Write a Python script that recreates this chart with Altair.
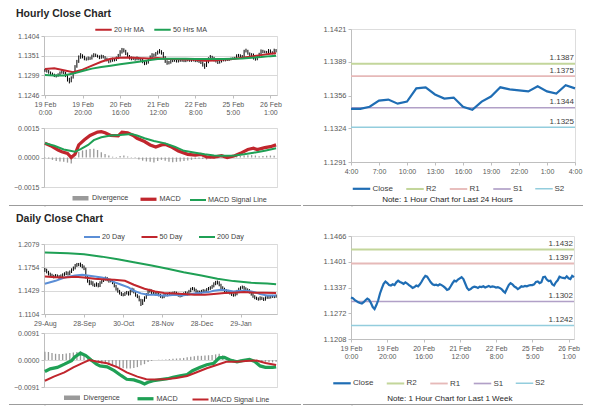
import json
import altair as alt
import pandas as pd

FONT = "Liberation Sans"
LBL = "#595959"
TXT = "#404040"
AXC = "#bfbfbf"
GRID = "#d9d9d9"

# ---------------- hourly data (19 Feb 0:00 .. 26 Feb 4:00, 124 hourly bars) ----------------
hourly_close = [
    1.1312, 1.1310, 1.1306, 1.1303, 1.1300, 1.1298, 1.1297, 1.1300, 1.1305, 1.1309,
    1.1306, 1.1298, 1.1288, 1.1283, 1.1293, 1.1305, 1.1322, 1.1335, 1.1346, 1.1352,
    1.1348, 1.1343, 1.1342, 1.1345, 1.1343, 1.1350, 1.1354, 1.1351, 1.1349, 1.1346,
    1.1350, 1.1347, 1.1343, 1.1340, 1.1336, 1.1338, 1.1342, 1.1340, 1.1345, 1.1352,
    1.1360, 1.1366, 1.1364, 1.1357, 1.1350, 1.1345, 1.1343, 1.1344, 1.1342, 1.1345,
    1.1343, 1.1340, 1.1336, 1.1331, 1.1333, 1.1340, 1.1348, 1.1354, 1.1352, 1.1357,
    1.1360, 1.1363, 1.1358, 1.1347, 1.1336, 1.1331, 1.1333, 1.1337, 1.1339, 1.1338,
    1.1336, 1.1339, 1.1338, 1.1340, 1.1337, 1.1339, 1.1341, 1.1338, 1.1340, 1.1339,
    1.1337, 1.1338, 1.1336, 1.1333, 1.1328, 1.1324, 1.1334, 1.1343, 1.1348, 1.1345,
    1.1340, 1.1337, 1.1333, 1.1336, 1.1340, 1.1339, 1.1341, 1.1340, 1.1342, 1.1343,
    1.1343, 1.1345, 1.1351, 1.1352, 1.1348, 1.1350, 1.1363, 1.1364, 1.1357, 1.1353,
    1.1354, 1.1345, 1.1342, 1.1350, 1.1355, 1.1364, 1.1362, 1.1361, 1.1360, 1.1365,
    1.1360, 1.1358, 1.1366, 1.1363,
]
hourly_high = [
    1.1316, 1.1315, 1.1313, 1.1309, 1.1306, 1.1303, 1.1301, 1.1304, 1.1309, 1.1314,
    1.1312, 1.1308, 1.1300, 1.1292, 1.1296, 1.1309, 1.1326, 1.1340, 1.1352, 1.1358,
    1.1355, 1.1351, 1.1347, 1.1349, 1.1348, 1.1354, 1.1358, 1.1357, 1.1354, 1.1352,
    1.1354, 1.1353, 1.1350, 1.1346, 1.1343, 1.1342, 1.1346, 1.1345, 1.1349, 1.1356,
    1.1366, 1.1372, 1.1371, 1.1367, 1.1360, 1.1353, 1.1349, 1.1348, 1.1347, 1.1349,
    1.1348, 1.1346, 1.1343, 1.1339, 1.1337, 1.1344, 1.1352, 1.1358, 1.1357, 1.1361,
    1.1365, 1.1369, 1.1366, 1.1361, 1.1350, 1.1339, 1.1337, 1.1341, 1.1342, 1.1342,
    1.1341, 1.1342, 1.1342, 1.1343, 1.1343, 1.1342, 1.1344, 1.1344, 1.1343, 1.1343,
    1.1342, 1.1341, 1.1341, 1.1339, 1.1336, 1.1331, 1.1337, 1.1347, 1.1353, 1.1351,
    1.1348, 1.1343, 1.1340, 1.1339, 1.1343, 1.1343, 1.1344, 1.1344, 1.1345, 1.1346,
    1.1347, 1.1348, 1.1355, 1.1356, 1.1355, 1.1353, 1.1367, 1.1370, 1.1367, 1.1360,
    1.1358, 1.1357, 1.1348, 1.1353, 1.1359, 1.1368, 1.1367, 1.1365, 1.1364, 1.1369,
    1.1368, 1.1363, 1.1370, 1.1369,
]
hourly_low = [
    1.1308, 1.1306, 1.1303, 1.1299, 1.1297, 1.1294, 1.1293, 1.1295, 1.1298, 1.1303,
    1.1302, 1.1294, 1.1282, 1.1277, 1.1280, 1.1290, 1.1302, 1.1319, 1.1332, 1.1343,
    1.1344, 1.1339, 1.1338, 1.1339, 1.1340, 1.1341, 1.1347, 1.1348, 1.1346, 1.1342,
    1.1343, 1.1344, 1.1339, 1.1336, 1.1331, 1.1333, 1.1335, 1.1336, 1.1337, 1.1342,
    1.1349, 1.1357, 1.1360, 1.1353, 1.1346, 1.1341, 1.1339, 1.1340, 1.1338, 1.1339,
    1.1339, 1.1336, 1.1331, 1.1326, 1.1327, 1.1330, 1.1337, 1.1345, 1.1348, 1.1349,
    1.1354, 1.1357, 1.1354, 1.1343, 1.1332, 1.1327, 1.1328, 1.1330, 1.1334, 1.1335,
    1.1333, 1.1333, 1.1335, 1.1335, 1.1334, 1.1334, 1.1336, 1.1335, 1.1335, 1.1336,
    1.1334, 1.1334, 1.1332, 1.1329, 1.1322, 1.1316, 1.1321, 1.1331, 1.1340, 1.1341,
    1.1336, 1.1333, 1.1329, 1.1330, 1.1333, 1.1336, 1.1336, 1.1337, 1.1337, 1.1339,
    1.1340, 1.1341, 1.1343, 1.1348, 1.1345, 1.1345, 1.1348, 1.1360, 1.1354, 1.1350,
    1.1350, 1.1341, 1.1338, 1.1339, 1.1347, 1.1352, 1.1358, 1.1358, 1.1357, 1.1357,
    1.1357, 1.1355, 1.1355, 1.1360,
]
hourly_ma_x = [0, 5, 10, 15, 20, 25, 30, 35, 40, 45, 50, 55, 60, 65, 70, 75, 80, 85,
               90, 95, 100, 105, 110, 115, 120, 123]
hourly_ma20 = [1.13157, 1.13175, 1.13122, 1.13069, 1.13139, 1.13245, 1.13351, 1.13431,
               1.13457, 1.13466, 1.13448, 1.13440, 1.13448, 1.13422, 1.13422, 1.13413,
               1.13404, 1.13378, 1.13387, 1.13413, 1.13422, 1.13457, 1.13493, 1.13528,
               1.13563, 1.13581]
hourly_ma50 = [1.12998, 1.12981, 1.12981, 1.13033, 1.13104, 1.13166, 1.13210, 1.13245,
               1.13281, 1.13316, 1.13351, 1.13387, 1.13422, 1.13431, 1.13431, 1.13431,
               1.13422, 1.13422, 1.13422, 1.13422, 1.13431, 1.13440, 1.13457, 1.13475,
               1.13501, 1.13510]
hourly_macd_x = [0, 3, 7, 9, 12, 14, 16, 18, 21, 24, 28, 30, 32, 35, 39, 41, 44, 47, 49, 53,
                 56, 59, 62, 64, 67, 71, 76, 80, 83, 86, 90, 94, 97, 101, 104, 108, 111, 113,
                 117, 120, 123]
hourly_macd = [0.00072, 0.00060, 0.00038, 0.00029, 0.00021, 0.00000, 0.00016, 0.00064,
               0.00090, 0.00112, 0.00129, 0.00131, 0.00126, 0.00112, 0.00110, 0.00129,
               0.00126, 0.00112, 0.00098, 0.00081, 0.00064, 0.00053, 0.00064, 0.00067,
               0.00055, 0.00033, 0.00016, 0.00012, 0.00016, 0.00003, 0.00002, 0.00009,
               0.00000, 0.00009, 0.00021, 0.00041, 0.00047, 0.00040, 0.00050, 0.00055,
               0.00064]
hourly_signal_x = [0, 5, 10, 16, 19, 23, 26, 30, 35, 40, 46, 49, 53, 58, 64, 69, 74, 80, 85,
                   90, 96, 101, 106, 111, 117, 123]
hourly_signal = [0.00072, 0.00060, 0.00041, 0.00029, 0.00043, 0.00064, 0.00088, 0.00103,
                 0.00112, 0.00114, 0.00119, 0.00112, 0.00098, 0.00084, 0.00072, 0.00055,
                 0.00034, 0.00024, 0.00016, 0.00010, 0.00009, 0.00010, 0.00016, 0.00024,
                 0.00034, 0.00047]
hourly_div_step = 2
hourly_div = [
    -0.00003, -0.00005, -0.00012, -0.00018, -0.00020, -0.00022, -0.00026, -0.00030, -0.00005, 0.00028,
    0.00036, 0.00040, 0.00043, 0.00044, 0.00038, 0.00027, 0.00018, 0.00010, 0.00004, 0.00002,
    0.00008, 0.00010, 0.00005, 0.00002, -0.00003, -0.00010, -0.00016, -0.00020, -0.00022, -0.00025,
    -0.00018, -0.00012, -0.00016, -0.00022, -0.00024, -0.00022, -0.00020, -0.00018, -0.00015, -0.00012,
    -0.00008, -0.00006, -0.00008, -0.00010, -0.00006, -0.00005, -0.00004, -0.00002, -0.00003, 0.00001,
    0.00003, 0.00006, 0.00008, 0.00010, 0.00012, 0.00012, 0.00010, 0.00006, 0.00008, 0.00009,
    0.00010, 0.00009,
]
hourly_tick_idx = [0, 20, 40, 60, 80, 100, 120]
hourly_tick_day = ["19 Feb", "19 Feb", "20 Feb", "21 Feb", "22 Feb", "25 Feb", "26 Feb"]
hourly_tick_time = ["0:00", "20:00", "16:00", "12:00", "8:00", "5:00", "1:00"]

# last 24 hours (25 hourly closes, 25 Feb 4:00 .. 26 Feb 4:00)
last24_first_bar = 99
last24_tick_idx = [0, 3, 6, 9, 12, 15, 18, 21, 24]
last24_ticks = ["4:00", "7:00", "10:00", "13:00", "16:00", "19:00", "22:00", "1:00", "4:00"]
level_names = ["R2", "R1", "S1", "S2"]
levels_24h = [1.1387, 1.1375, 1.1344, 1.1325]
levels_week = [1.1432, 1.1397, 1.1302, 1.1242]

# ---------------- daily data (29 Aug .. 26 Feb, 131 days) ----------------
daily_close = [
    1.1715, 1.1690, 1.1660, 1.1645, 1.1630, 1.1620, 1.1640, 1.1625, 1.1610, 1.1630,
    1.1650, 1.1665, 1.1675, 1.1660, 1.1690, 1.1720, 1.1740, 1.1775, 1.1795, 1.1810,
    1.1780, 1.1760, 1.1740, 1.1620, 1.1560, 1.1530, 1.1545, 1.1510, 1.1500, 1.1520,
    1.1495, 1.1540, 1.1565, 1.1590, 1.1605, 1.1580, 1.1560, 1.1575, 1.1540, 1.1495,
    1.1450, 1.1420, 1.1395, 1.1375, 1.1370, 1.1390, 1.1400, 1.1380, 1.1420, 1.1445,
    1.1410, 1.1365, 1.1345, 1.1300, 1.1250, 1.1290, 1.1330, 1.1375, 1.1420, 1.1430,
    1.1400, 1.1395, 1.1380, 1.1400, 1.1370, 1.1350, 1.1340, 1.1365, 1.1375, 1.1370,
    1.1390, 1.1385, 1.1395, 1.1400, 1.1380, 1.1365, 1.1355, 1.1370, 1.1385, 1.1400,
    1.1380, 1.1420, 1.1450, 1.1460, 1.1440, 1.1410, 1.1415, 1.1400, 1.1420, 1.1430,
    1.1425, 1.1445, 1.1460, 1.1470, 1.1490, 1.1520, 1.1535, 1.1545, 1.1510, 1.1470,
    1.1455, 1.1430, 1.1410, 1.1420, 1.1395, 1.1375, 1.1365, 1.1380, 1.1420, 1.1450,
    1.1470, 1.1480, 1.1460, 1.1445, 1.1430, 1.1410, 1.1380, 1.1350, 1.1330, 1.1320,
    1.1310, 1.1330, 1.1320, 1.1305, 1.1330, 1.1345, 1.1335, 1.1345, 1.1350, 1.1345,
    1.1355,
]
daily_high = [
    1.1745, 1.1735, 1.1705, 1.1680, 1.1665, 1.1650, 1.1660, 1.1655, 1.1645, 1.1655,
    1.1670, 1.1685, 1.1700, 1.1695, 1.1710, 1.1740, 1.1765, 1.1800, 1.1815, 1.1815,
    1.1820, 1.1800, 1.1780, 1.1750, 1.1635, 1.1580, 1.1570, 1.1560, 1.1530, 1.1545,
    1.1535, 1.1560, 1.1590, 1.1610, 1.1625, 1.1620, 1.1600, 1.1595, 1.1590, 1.1555,
    1.1510, 1.1470, 1.1440, 1.1410, 1.1395, 1.1410, 1.1425, 1.1420, 1.1440, 1.1470,
    1.1460, 1.1425, 1.1380, 1.1360, 1.1315, 1.1310, 1.1350, 1.1395, 1.1440, 1.1455,
    1.1445, 1.1420, 1.1410, 1.1420, 1.1415, 1.1385, 1.1365, 1.1385, 1.1395, 1.1395,
    1.1410, 1.1405, 1.1415, 1.1420, 1.1415, 1.1400, 1.1380, 1.1390, 1.1405, 1.1420,
    1.1415, 1.1440, 1.1470, 1.1480, 1.1475, 1.1455, 1.1435, 1.1430, 1.1440, 1.1450,
    1.1445, 1.1465, 1.1480, 1.1490, 1.1510, 1.1545, 1.1565, 1.1570, 1.1560, 1.1525,
    1.1490, 1.1470, 1.1450, 1.1440, 1.1435, 1.1410, 1.1390, 1.1400, 1.1440, 1.1470,
    1.1490, 1.1500, 1.1495, 1.1475, 1.1460, 1.1450, 1.1425, 1.1395, 1.1365, 1.1345,
    1.1335, 1.1350, 1.1345, 1.1335, 1.1350, 1.1365, 1.1360, 1.1365, 1.1370, 1.1365,
    1.1375,
]
daily_low = [
    1.1690, 1.1670, 1.1640, 1.1625, 1.1610, 1.1600, 1.1605, 1.1605, 1.1590, 1.1595,
    1.1615, 1.1635, 1.1645, 1.1640, 1.1645, 1.1675, 1.1705, 1.1725, 1.1760, 1.1770,
    1.1760, 1.1740, 1.1715, 1.1600, 1.1540, 1.1505, 1.1510, 1.1490, 1.1480, 1.1485,
    1.1475, 1.1480, 1.1525, 1.1550, 1.1570, 1.1560, 1.1540, 1.1545, 1.1520, 1.1475,
    1.1430, 1.1400, 1.1375, 1.1355, 1.1350, 1.1355, 1.1375, 1.1360, 1.1365, 1.1405,
    1.1390, 1.1345, 1.1325, 1.1280, 1.1215, 1.1230, 1.1275, 1.1315, 1.1360, 1.1400,
    1.1380, 1.1375, 1.1360, 1.1365, 1.1350, 1.1330, 1.1320, 1.1325, 1.1350, 1.1350,
    1.1355, 1.1365, 1.1370, 1.1375, 1.1360, 1.1345, 1.1335, 1.1340, 1.1355, 1.1370,
    1.1360, 1.1365, 1.1405, 1.1435, 1.1420, 1.1390, 1.1390, 1.1380, 1.1385, 1.1405,
    1.1405, 1.1410, 1.1430, 1.1440, 1.1455, 1.1475, 1.1505, 1.1515, 1.1490, 1.1450,
    1.1435, 1.1410, 1.1390, 1.1395, 1.1375, 1.1355, 1.1345, 1.1350, 1.1365, 1.1405,
    1.1435, 1.1455, 1.1440, 1.1425, 1.1410, 1.1390, 1.1360, 1.1330, 1.1310, 1.1300,
    1.1290, 1.1295, 1.1300, 1.1285, 1.1290, 1.1315, 1.1315, 1.1320, 1.1330, 1.1325,
    1.1330,
]
daily_ma20_x = [0, 6, 11, 17, 21, 24, 28, 32, 35, 39, 43, 47, 50, 54, 58, 62, 65, 69, 73, 77,
                80, 84, 88, 92, 95, 99, 103, 106, 110, 114, 118, 121, 125, 130]
daily_ma20 = [1.1525, 1.1566, 1.1612, 1.1640, 1.1649, 1.1640, 1.1626, 1.1612, 1.1594, 1.1548,
              1.1511, 1.1474, 1.1428, 1.1391, 1.1372, 1.1372, 1.1363, 1.1363, 1.1372, 1.1363,
              1.1372, 1.1391, 1.1400, 1.1409, 1.1428, 1.1441, 1.1432, 1.1418, 1.1428, 1.1428,
              1.1409, 1.1381, 1.1363, 1.1363]
daily_ma50_x = [0, 6, 11, 17, 22, 28, 34, 39, 45, 50, 56, 62, 67, 73, 78, 84, 90, 95, 101, 106,
                112, 118, 123, 130]
daily_ma50 = [1.1626, 1.1617, 1.1612, 1.1622, 1.1612, 1.1594, 1.1585, 1.1580, 1.1566, 1.1511,
              1.1455, 1.1418, 1.1395, 1.1391, 1.1381, 1.1372, 1.1372, 1.1381, 1.1395, 1.1400,
              1.1409, 1.1400, 1.1400, 1.1395]
daily_ma200_x = [0, 13, 22, 32, 41, 50, 60, 69, 78, 88, 97, 106, 116, 125, 130]
daily_ma200 = [1.1959, 1.1950, 1.1936, 1.1903, 1.1867, 1.1825, 1.1779, 1.1733, 1.1686, 1.1640,
               1.1594, 1.1562, 1.1538, 1.1529, 1.1520]
daily_macd_x = [0, 3, 7, 11, 15, 17, 20, 23, 26, 29, 31, 35, 39, 43, 46, 50, 54, 56, 58, 61,
                65, 69, 72, 76, 80, 83, 87, 91, 95, 98, 101, 104, 108, 111, 115, 118, 121, 124,
                128, 130]
daily_macd = [-0.0039, -0.0030, -0.0025, -0.0014, -0.0002, 0.0011, 0.0023, 0.0015, 0.0000, -0.0014,
              -0.0020, -0.0023, -0.0036, -0.0053, -0.0065, -0.0067, -0.0075, -0.0081, -0.0075, -0.0070,
              -0.0066, -0.0063, -0.0058, -0.0053, -0.0049, -0.0036, -0.0025, -0.0016, -0.0011, 0.0007,
              0.0009, 0.0000, -0.0006, -0.0002, 0.0002, -0.0005, -0.0020, -0.0025, -0.0025, -0.0023]
daily_signal_x = [0, 5, 11, 16, 22, 25, 29, 35, 41, 46, 52, 57, 63, 69, 74, 80, 85, 91, 97, 102,
                  108, 113, 119, 124, 130]
daily_signal = [-0.0070, -0.0056, -0.0042, -0.0025, -0.0008, 0.0000, -0.0005, -0.0011, -0.0025,
                -0.0042, -0.0056, -0.0065, -0.0066, -0.0064, -0.0061, -0.0054, -0.0042, -0.0028,
                -0.0016, -0.0006, -0.0006, -0.0003, -0.0002, -0.0010, -0.0017]
daily_div_step = 2
daily_div = [
    0.0028, 0.0027, 0.0024, 0.0021, 0.0020, 0.0020, 0.0022, 0.0024, 0.0025, 0.0027,
    0.0029, 0.0015, 0.0003, -0.0005, -0.0008, -0.0010, -0.0012, -0.0014, -0.0017, -0.0020,
    -0.0023, -0.0025, -0.0028, -0.0029, -0.0029, -0.0027, -0.0024, -0.0018, -0.0014, -0.0007,
    -0.0003, 0.0000, 0.0001, 0.0001, 0.0002, 0.0003, 0.0004, 0.0005, 0.0006, 0.0007,
    0.0009, 0.0011, 0.0013, 0.0014, 0.0014, 0.0015, 0.0016, 0.0017, 0.0019, 0.0021,
    0.0016, 0.0010, 0.0005, 0.0002, 0.0000, 0.0001, 0.0002, 0.0003, 0.0002, 0.0000,
    -0.0002, -0.0004, -0.0006, -0.0007, -0.0008, -0.0006,
]
daily_tick_idx = [0, 22, 44, 66, 88, 110]
daily_tick_labels = ["29-Aug", "28-Sep", "30-Oct", "28-Nov", "28-Dec", "29-Jan"]

# axis tick values
hourly_price_ticks = [1.1246, 1.1299, 1.1351, 1.1404]
hourly_macd_ticks = [-0.0015, 0.0, 0.0015]
daily_price_ticks = [1.1104, 1.1429, 1.1754, 1.2079]
daily_macd_ticks = [-0.0091, 0.0, 0.0091]
r24_ticks = [1.1291, 1.1324, 1.1356, 1.1389, 1.1421]
rweek_ticks = [1.1208, 1.1272, 1.1337, 1.1401, 1.1466]

# colors
RED = "#c0262d"
GREEN = "#1fa055"
BLUE = "#5b8ed6"
GRAY = "#9a9a9a"
LEVEL_DOMAIN = ["Close", "R2", "R1", "S1", "S2"]
LEVEL_COLORS = ["#1f6db4", "#c3d69b", "#e6b9b8", "#b1a0c7", "#93cddd"]
LEVEL_WIDTHS = [2.2, 1.5, 1.5, 1.5, 1.5]


# ---------------- helpers ----------------
def lbl_expr(idx, labels):
    return f"{json.dumps(labels)}[indexof({json.dumps(idx)}, datum.value)]"


def y_axis(values, grid=True, size=7):
    return alt.Axis(values=values, tickCount=len(values), format=".4f", grid=grid, gridColor=GRID,
                    domainColor=AXC, tickColor=AXC, tickSize=3, labelFontSize=size, labelColor=LBL,
                    labelPadding=2, title=None, labelFont=FONT, labelOverlap=False)


def x_axis(values, expr, size=7):
    return alt.Axis(values=values, tickCount=len(values), labelExpr=expr, grid=False,
                    domainColor=AXC, tickColor=AXC, tickSize=3, labelFontSize=size,
                    labelColor=LBL, labelLineHeight=8, labelPadding=2, title=None,
                    labelOverlap=False, labelFlush=False, labelBound=False, labelFont=FONT)


def legend(x, y, size, font, pad, stroke_width=None):
    kw = dict(orient="none", legendX=x, legendY=y, direction="horizontal", title=None,
              symbolType="stroke", symbolSize=size, labelFontSize=font,
              labelColor=TXT, labelOffset=1, columnPadding=pad, padding=0, labelFont=FONT)
    if stroke_width is not None:
        kw["symbolStrokeWidth"] = stroke_width
    return alt.Legend(**kw)


def res(c):
    return c.resolve_scale(color="independent", strokeWidth="independent").resolve_legend(
        color="independent", strokeWidth="independent")


def long(xs, vs, name):
    return pd.DataFrame({"i": xs, "v": vs, "series": name})


# ---------------- hourly price ----------------
N_H = len(hourly_close)
df_h = pd.DataFrame({"i": list(range(N_H)), "close": hourly_close,
                     "high": hourly_high, "low": hourly_low})
xs_h = alt.Scale(domain=[-0.5, N_H - 0.5], nice=False, zero=False)
hourly_labels = [[d, t] for d, t in zip(hourly_tick_day, hourly_tick_time)]
h_xaxis = x_axis(hourly_tick_idx, lbl_expr(hourly_tick_idx, hourly_labels))
ys_hp = alt.Scale(domain=[hourly_price_ticks[0], hourly_price_ticks[-1]], nice=False, zero=False)

h_bars = alt.Chart(df_h).mark_rule(color="#000000", strokeWidth=1).encode(
    x=alt.X("i:Q", scale=xs_h, axis=h_xaxis),
    y=alt.Y("low:Q", scale=ys_hp, axis=y_axis(hourly_price_ticks)),
    y2="high:Q",
)
df_hma = pd.concat([long(hourly_ma_x, hourly_ma20, "20 Hr MA"),
                    long(hourly_ma_x, hourly_ma50, "50 Hrs MA")])
h_ma = alt.Chart(df_hma).mark_line(strokeWidth=2).encode(
    x=alt.X("i:Q", scale=xs_h),
    y=alt.Y("v:Q", scale=ys_hp),
    color=alt.Color("series:N", scale=alt.Scale(domain=["20 Hr MA", "50 Hrs MA"], range=[RED, GREEN]),
                    legend=legend(50, -16, 270, 7.2, 5, stroke_width=2)),
)
h_price = alt.layer(h_bars, h_ma).properties(
    width=233, height=59,
    title=alt.TitleParams("Hourly Close Chart", anchor="start", frame="group", dx=-28, dy=3, offset=4,
                          fontSize=10.5, fontWeight="bold", font=FONT, color="#262626"),
)

# ---------------- hourly MACD ----------------
MACD_DOMAIN = ["Divergence", "MACD", "MACD Signal Line"]
ys_hm = alt.Scale(domain=[hourly_macd_ticks[0], hourly_macd_ticks[-1]], nice=False, zero=False)
leg_hm = legend(26, 59.5, 256, 7.2, 4.5)
cs_hm = alt.Scale(domain=MACD_DOMAIN, range=[GRAY, RED, GREEN])
sw_m = alt.Scale(domain=MACD_DOMAIN, range=[4.5, 2, 2])
df_hd = long(list(range(0, N_H, hourly_div_step)), hourly_div, "Divergence")
h_div = alt.Chart(df_hd).mark_rule(strokeWidth=1.3).encode(
    x=alt.X("i:Q", scale=xs_h, axis=None),
    y=alt.Y("v:Q", scale=ys_hm, axis=y_axis(hourly_macd_ticks)),
    y2=alt.datum(0),
    color=alt.Color("series:N", scale=cs_hm, legend=leg_hm),
)
df_hml = pd.concat([long(hourly_macd_x, hourly_macd, "MACD"),
                    long(hourly_signal_x, hourly_signal, "MACD Signal Line")])
h_lines = alt.Chart(df_hml).mark_line().encode(
    x=alt.X("i:Q", scale=xs_h, axis=None),
    y=alt.Y("v:Q", scale=ys_hm),
    color=alt.Color("series:N", scale=cs_hm, legend=leg_hm),
    strokeWidth=alt.StrokeWidth("series:N", scale=sw_m, legend=leg_hm),
)
h_macd = alt.layer(h_div, h_lines).properties(width=233, height=59)

# ---------------- daily price ----------------
N_D = len(daily_close)
df_d = pd.DataFrame({"i": list(range(N_D)), "close": daily_close,
                     "high": daily_high, "low": daily_low})
xs_d = alt.Scale(domain=[-0.5, N_D - 0.5], nice=False, zero=False)
ys_dp = alt.Scale(domain=[daily_price_ticks[0], daily_price_ticks[-1]], nice=False, zero=False)
d_bars = alt.Chart(df_d).mark_rule(color="#000000", strokeWidth=1).encode(
    x=alt.X("i:Q", scale=xs_d, axis=x_axis(daily_tick_idx, lbl_expr(daily_tick_idx, daily_tick_labels))),
    y=alt.Y("low:Q", scale=ys_dp, axis=y_axis(daily_price_ticks)),
    y2="high:Q",
)
df_dma = pd.concat([long(daily_ma20_x, daily_ma20, "20 Day"),
                    long(daily_ma50_x, daily_ma50, "50 Day"),
                    long(daily_ma200_x, daily_ma200, "200 Day")])
d_ma = alt.Chart(df_dma).mark_line(strokeWidth=2).encode(
    x=alt.X("i:Q", scale=xs_d),
    y=alt.Y("v:Q", scale=ys_dp),
    color=alt.Color("series:N", scale=alt.Scale(domain=["20 Day", "50 Day", "200 Day"],
                                                range=[BLUE, RED, GREEN]),
                    legend=legend(39, -16, 256, 7.2, 12.5, stroke_width=2)),
)
d_price = alt.layer(d_bars, d_ma).properties(
    width=233, height=70,
    title=alt.TitleParams("Daily Close Chart", anchor="start", frame="group", dx=-28, offset=4,
                          fontSize=10.5, fontWeight="bold", font=FONT, color="#262626"),
)

# ---------------- daily MACD ----------------
ys_dm = alt.Scale(domain=[daily_macd_ticks[0], daily_macd_ticks[-1]], nice=False, zero=False)
leg_dm = legend(17.5, 54, 256, 7.2, 10)
cs_dm = alt.Scale(domain=MACD_DOMAIN, range=[GRAY, GREEN, RED])
df_dd = long(list(range(0, N_D, daily_div_step)), daily_div, "Divergence")
d_div = alt.Chart(df_dd).mark_rule(strokeWidth=1.3).encode(
    x=alt.X("i:Q", scale=xs_d, axis=None),
    y=alt.Y("v:Q", scale=ys_dm, axis=y_axis(daily_macd_ticks)),
    y2=alt.datum(0),
    color=alt.Color("series:N", scale=cs_dm, legend=leg_dm),
)
df_dml = pd.concat([long(daily_macd_x, daily_macd, "MACD"),
                    long(daily_signal_x, daily_signal, "MACD Signal Line")])
d_lines = alt.Chart(df_dml).mark_line().encode(
    x=alt.X("i:Q", scale=xs_d, axis=None),
    y=alt.Y("v:Q", scale=ys_dm),
    color=alt.Color("series:N", scale=cs_dm, legend=leg_dm),
    strokeWidth=alt.StrokeWidth("series:N", scale=sw_m, legend=leg_dm),
)
d_macd = alt.layer(d_div, d_lines).properties(width=233, height=54)


# ---------------- right-hand level charts ----------------
def level_chart(close_vals, levels, x_ticks, x_expr, x_domain, y_ticks, width, height,
                leg_x, leg_y, note, note_dx, note_offset):
    df_c = pd.DataFrame({"i": list(range(len(close_vals))), "v": close_vals, "series": "Close"})
    df_l = pd.DataFrame({"series": level_names, "v": levels})
    xs = alt.Scale(domain=x_domain, nice=False, zero=False)
    ys = alt.Scale(domain=[y_ticks[0], y_ticks[-1]], nice=False, zero=False)
    cs = alt.Scale(domain=LEVEL_DOMAIN, range=LEVEL_COLORS)
    sw = alt.Scale(domain=LEVEL_DOMAIN, range=LEVEL_WIDTHS)
    leg = legend(leg_x, leg_y, 306, 8, 8.5)
    yax = alt.Axis(values=y_ticks, tickCount=len(y_ticks), format=".4f", grid=False,
                   domainColor=AXC, tickColor=AXC, tickSize=3, labelFontSize=7.5, labelColor=LBL,
                   labelPadding=2, title=None, labelFont=FONT, labelOverlap=False)
    rules = alt.Chart(df_l).mark_rule().encode(
        y=alt.Y("v:Q", scale=ys, axis=yax),
        color=alt.Color("series:N", scale=cs, legend=leg),
        strokeWidth=alt.StrokeWidth("series:N", scale=sw, legend=leg),
    )
    line = alt.Chart(df_c).mark_line().encode(
        x=alt.X("i:Q", scale=xs, axis=x_axis(x_ticks, x_expr)),
        y=alt.Y("v:Q", scale=ys),
        color=alt.Color("series:N", scale=cs, legend=leg),
        strokeWidth=alt.StrokeWidth("series:N", scale=sw, legend=leg),
    )
    texts = alt.Chart(df_l).mark_text(align="right", baseline="bottom", dx=-1, dy=-1.5,
                                      fontSize=8, color=TXT, font=FONT).encode(
        x=alt.datum(x_domain[1]),
        y=alt.Y("v:Q", scale=ys),
        text=alt.Text("v:Q", format=".4f"),
    )
    return alt.layer(rules, line, texts).properties(
        width=width, height=height,
        title=alt.TitleParams(note, orient="bottom", anchor="middle", frame="group", dx=note_dx,
                              offset=note_offset, fontSize=8, fontWeight="normal", font=FONT,
                              color="#262626"),
    )


last24_close = hourly_close[last24_first_bar:]
r_top = level_chart(last24_close, levels_24h, last24_tick_idx,
                    lbl_expr(last24_tick_idx, last24_ticks), [0, len(last24_close) - 1],
                    r24_ticks, 224, 133, 0.5, 149.5,
                    "Note: 1 Hour Chart for Last 24 Hours", -15.5, 2)
r_bot = level_chart(hourly_close, levels_week, hourly_tick_idx,
                    lbl_expr(hourly_tick_idx, hourly_labels), [0, N_H - 1],
                    rweek_ticks, 223, 103, -19, 137,
                    "Note: 1 Hour Chart for Last 1 Week", -12.7, 7)

# ---------------- layout pieces ----------------
dummy = pd.DataFrame({"a": [0]})


def sp(h):
    return alt.Chart(dummy).mark_point(opacity=0).properties(width=1, height=h)


def separator(lo, hi):
    # thin grey divider line between the two halves of the dashboard
    return alt.Chart(dummy).mark_rule(color="#9c9c9c", strokeWidth=1).encode(
        x=alt.value(lo), x2=alt.value(hi), y=alt.value(0.5)
    ).properties(width=1, height=1)


left_col = res(alt.vconcat(
    sp(7), h_price, sp(33), h_macd, sp(18), separator(-35, 257), sp(38),
    d_price, sp(19), d_macd, sp(17), separator(-35, 257),
    spacing=0, bounds="flush"))
right_col = res(alt.vconcat(
    r_top, sp(43), separator(-48, 232), sp(30), r_bot, sp(65), separator(-48, 232),
    spacing=0, bounds="flush"))

chart = res(alt.hconcat(left_col, right_col, spacing=0)).properties(
    padding={"left": 0, "top": 0, "right": 0, "bottom": 0}
).configure_view(stroke=None).configure(font=FONT)

chart.save("out.html", embed_options={"renderer": "svg", "actions": False})
